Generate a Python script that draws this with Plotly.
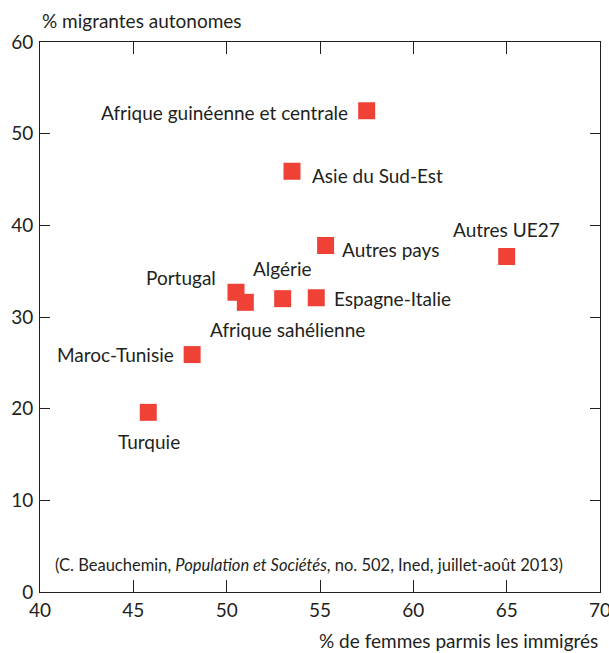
import plotly.graph_objects as go

# Data
categories = ["Afrique guinéenne et centrale", "Asie du Sud-Est", "Autres pays", "Autres UE27",
              "Portugal", "Algérie", "Afrique sahélienne", "Espagne-Italie", "Maroc-Tunisie", "Turquie"]
pct_femmes = [57.5, 53.5, 55.3, 65.0, 50.5, 53.0, 51.0, 54.8, 48.15, 45.8]
pct_autonomes = [52.5, 45.9, 37.8, 36.6, 32.7, 32.0, 31.6, 32.1, 25.9, 19.6]
x_ticks = [40, 45, 50, 55, 60, 65, 70]
y_ticks = [0, 10, 20, 30, 40, 50, 60]

# Label placement (style): xanchor, yanchor, xshift, yshift
label_style = {
    "Afrique guinéenne et centrale": ("right", "middle", -17, -2),
    "Asie du Sud-Est": ("left", "middle", 18, -4),
    "Autres pays": ("left", "middle", 14, -4),
    "Autres UE27": ("center", "bottom", 0, 14),
    "Portugal": ("right", "middle", -18, 15),
    "Algérie": ("center", "bottom", 0, 17),
    "Afrique sahélienne": ("center", "top", 42, -14),
    "Espagne-Italie": ("left", "middle", 16, -1),
    "Maroc-Tunisie": ("right", "middle", -16, 0),
    "Turquie": ("center", "top", 1, -16),
}

FONT = "Lato"
TXT = "#231F20"
RED = "#EF4136"
FS = 19

fig = go.Figure()
fig.add_trace(go.Scatter(
    x=pct_femmes, y=pct_autonomes, mode="markers",
    marker=dict(symbol="square", size=17, color=RED, line=dict(width=0)),
    hovertext=categories, showlegend=False, cliponaxis=False,
))

annotations = []
for name, xv, yv in zip(categories, pct_femmes, pct_autonomes):
    xa, ya, xs, ys = label_style[name]
    annotations.append(dict(x=xv, y=yv, xref="x", yref="y", text=name, showarrow=False,
                            xanchor=xa, yanchor=ya, xshift=xs, yshift=ys,
                            font=dict(family=FONT, size=FS, color=TXT)))

annotations.append(dict(x=0.48, y=3.0, xref="paper", yref="y",
                        text="(C. Beauchemin, <i>Population et Sociétés</i>, no. 502, Ined, juillet-août 2013)",
                        showarrow=False, xanchor="center", yanchor="middle",
                        font=dict(family=FONT, size=16.5, color=TXT)))
annotations.append(dict(x=0, y=1, xref="paper", yref="paper", text="% migrantes autonomes",
                        showarrow=False, xanchor="left", yanchor="bottom", yshift=8,
                        font=dict(family=FONT, size=FS, color=TXT)))
annotations.append(dict(x=1, y=0, xref="paper", yref="paper", text="% de femmes parmis les immigrés",
                        showarrow=False, xanchor="right", yanchor="top", yshift=-35,
                        font=dict(family=FONT, size=FS, color=TXT)))

fig.update_layout(
    width=609, height=653,
    margin=dict(l=40, r=9, t=42, b=61, autoexpand=False),
    paper_bgcolor="white", plot_bgcolor="white",
    annotations=annotations,
    font=dict(family=FONT, size=FS, color=TXT),
)
fig.update_xaxes(range=[40, 70], tickvals=x_ticks, ticks="inside", ticklen=12, tickcolor=TXT,
                 showline=True, linecolor=TXT, linewidth=1, mirror="ticks", showgrid=False,
                 zeroline=False, tickfont=dict(size=FS), automargin=False, ticklabelstandoff=1,
                 ticklabeloverflow="allow")
fig.update_yaxes(range=[0, 60], tickvals=y_ticks, ticks="inside", ticklen=10, tickcolor=TXT,
                 showline=True, linecolor=TXT, linewidth=1, mirror="ticks", showgrid=False,
                 zeroline=False, tickfont=dict(size=FS), automargin=False, ticklabelstandoff=2,
                 ticklabeloverflow="allow")

fig.write_html("out.html", config={"displayModeBar": False},
               post_script="document.body.style.margin='0';document.body.style.overflow='hidden';")
